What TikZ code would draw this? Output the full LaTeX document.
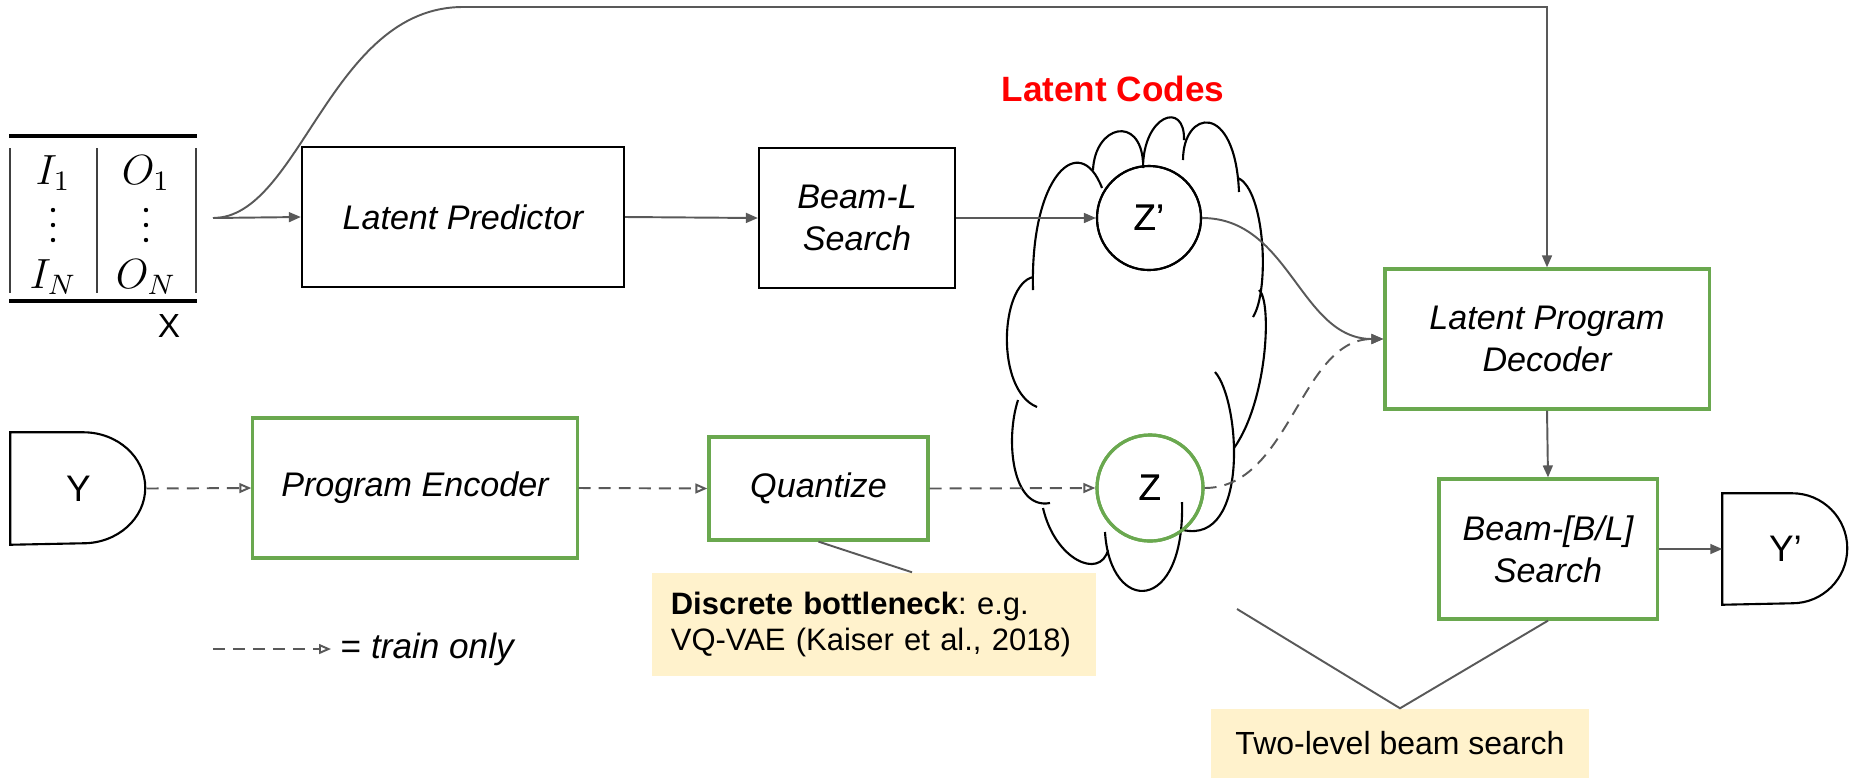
\documentclass[tikz,border=0pt]{standalone}
\usepackage{fontspec}
\setmainfont{Liberation Sans}
\usepackage{amsmath}
\usetikzlibrary{arrows.meta, positioning}

\definecolor{boxgreen}{HTML}{6AA84F}
\definecolor{linkgray}{HTML}{595959}
\definecolor{noteyellow}{HTML}{FFF2CC}
\definecolor{codered}{HTML}{FF0000}

\tikzset{
    blockbox/.style={draw=black, line width=0.6pt, inner sep=0pt, align=center,
        minimum height=1.4cm, font=\fontsize{9.7}{11.9}\selectfont\itshape},
    greenbox/.style={blockbox, draw=boxgreen, line width=0.9pt},
    codenode/.style={circle, draw=black, line width=0.6pt, inner sep=0pt,
        minimum size=1.04cm, font=\fontsize{10.5}{12}\selectfont},
    dnode/.style={inner sep=0pt, font=\fontsize{10.5}{12}\selectfont},
    note/.style={fill=noteyellow, inner sep=0pt, font=\fontsize{8.8}{10.5}\selectfont},
    tabentry/.style={inner sep=0pt, font=\fontsize{11.5}{13}\selectfont},
    link/.style={draw=linkgray, line width=0.55pt, -{Triangle[length=3.4pt, width=2.8pt]}},
    trainlink/.style={link, dash pattern=on 3.4pt off 2.3pt,
        -{Triangle[open, length=3.4pt, width=2.8pt]}},
    noteline/.style={draw=linkgray, line width=0.55pt},
    cloudline/.style={draw=black, line width=0.6pt},
}

\begin{document}
\frenchspacing
\begin{tikzpicture}[x=0.01cm, y=-0.01cm]
    \useasboundingbox (0,0) rectangle (1852,778);

    % examples table X
    \draw[line width=1pt] (9,136) -- (197,136) (9,301) -- (197,301);
    \draw[line width=0.5pt, black!75] (10,148) -- (10,293) (97,148) -- (97,293) (196,148) -- (196,293);
    \node[tabentry] (i1) at (53,173) {$I_1$};
    \node[tabentry] (o1) at (146,173) {$O_1$};
    \node[tabentry] (iN) at (53,277) {$I_N$};
    \node[tabentry] (oN) at (146,277) {$O_N$};
    \foreach \y in {210,225,240} {
        \fill (53,\y) circle (2.2);
        \fill (146,\y) circle (2.2);
    }
    \node[dnode, font=\fontsize{9.5}{11}\selectfont] (xlab) at (169,326) {X};

    % top row
    \node[blockbox, minimum width=3.22cm] (pred) at (463,217) {Latent Predictor};
    \node[blockbox, minimum width=1.96cm] (beamL) at (857,218) {Beam-L\\Search};
    \node[codenode] (zpr) at (1149,218) {Z’};
    \node[font=\fontsize{10}{12}\selectfont\bfseries, text=codered] (codes) at (1113,89) {Latent Codes};

    % bottom row
    \node[dnode, minimum width=1.35cm, minimum height=1.11cm] (yin) at (78.5,488.5) {Y};
    \draw[line width=0.6pt] (yin.north west) -- ++(73,0) arc(-90:90:62 and 55.5) -- (yin.south west) -- cycle;
    \node[greenbox, minimum width=3.24cm] (enc) at (415,488) {Program Encoder};
    \node[greenbox, minimum width=2.19cm, minimum height=1.03cm] (quant) at (818.5,488.5) {Quantize};
    \node[codenode, draw=boxgreen, line width=0.9pt, minimum size=1.06cm] (zq) at (1150,488) {Z};

    % decoder side
    \node[greenbox, minimum width=3.24cm] (dec) at (1547,339) {Latent Program\\Decoder};
    \node[greenbox, minimum width=2.18cm] (beamBL) at (1548,549) {Beam-[B/L]\\Search};
    \node[dnode, minimum width=1.25cm, minimum height=1.1cm] (yout) at (1785.5,549) {Y’};
    \draw[line width=0.6pt] (yout.north west) -- ++(70,0) arc(-90:90:55 and 55) -- (yout.south west) -- cycle;

    % cloud of latent codes
    \draw[cloudline]
        (1033,290) .. controls (1030,175) and (1080,130) .. (1102,188)
        (1093,170) .. controls (1095,125) and (1140,115) .. (1143,162)
        (1143,168) .. controls (1143,115) and (1185,100) .. (1184,140)
        (1183,160) .. controls (1183,110) and (1235,100) .. (1239,192)
        (1238,178) .. controls (1265,190) and (1270,290) .. (1253,317)
        (1259,290) .. controls (1272,300) and (1268,400) .. (1234,448)
        (1215,372) .. controls (1240,400) and (1250,545) .. (1183,530)
        (1182,502) .. controls (1185,615) and (1110,615) .. (1105,532)
        (1043,508) .. controls (1055,560) and (1100,580) .. (1108,550)
        (1018,400) .. controls (1005,440) and (1012,510) .. (1050,503)
        (1033,277) .. controls (1000,285) and (995,390) .. (1037,407);
    \node[codenode] at (zpr) {Z’};
    \node[codenode, draw=boxgreen, line width=0.9pt, minimum size=1.06cm] at (zq) {Z};

    % notes
    \node[note, minimum width=4.44cm, minimum height=1.03cm, text width=4.06cm,
        align=left] (disc) at (874,624.5) {\textbf{Discrete bottleneck}: e.g.\\VQ-VAE (Kaiser et al., 2018)};
    \node[note, minimum width=3.78cm, minimum height=0.69cm, font=\fontsize{9.1}{11}\selectfont] (twolvl) at (1400,743.5) {Two-level beam search};

    % connectors
    \coordinate (fork) at (213,218);
    \coordinate (topA) at (463,7);
    \draw[link] (fork) -- (pred.west);
    \draw[link] (fork) .. controls (300,218) and (330,7) .. (topA) -- (topA -| dec.north) -- (dec.north);
    \draw[link] (pred.east) -- (beamL.west);
    \draw[link] (beamL.east) -- (zpr.west);
    \draw[link] (zpr.east) .. controls (1290,218) and (1300,339) .. (dec.west);
    \draw[link] (dec.south) -- (beamBL.north);
    \draw[link] (beamBL.east) -- (yout.west);

    \draw[trainlink] (yin.east) -- (enc.west);
    \draw[trainlink] (enc.east) -- (quant.west);
    \draw[trainlink] (quant.east) -- (zq.west);
    \draw[trainlink] (zq.east) .. controls (1290,488) and (1300,339) .. (dec.west);

    \draw[noteline] (quant.south) -- ([xshift=0.38cm]disc.north);
    \coordinate (lvlA) at (1237,609);
    \draw[noteline] (lvlA) -- (twolvl.north) -- (beamBL.south);

    % legend
    \node[anchor=west, inner xsep=0.09cm, inner ysep=0pt, font=\fontsize{10}{12}\selectfont] (legend) at (331,649) {= \itshape train only};
    \coordinate (legstart) at (213,649);
    \draw[trainlink] (legstart) -- (legend.west);
\end{tikzpicture}
\end{document}
